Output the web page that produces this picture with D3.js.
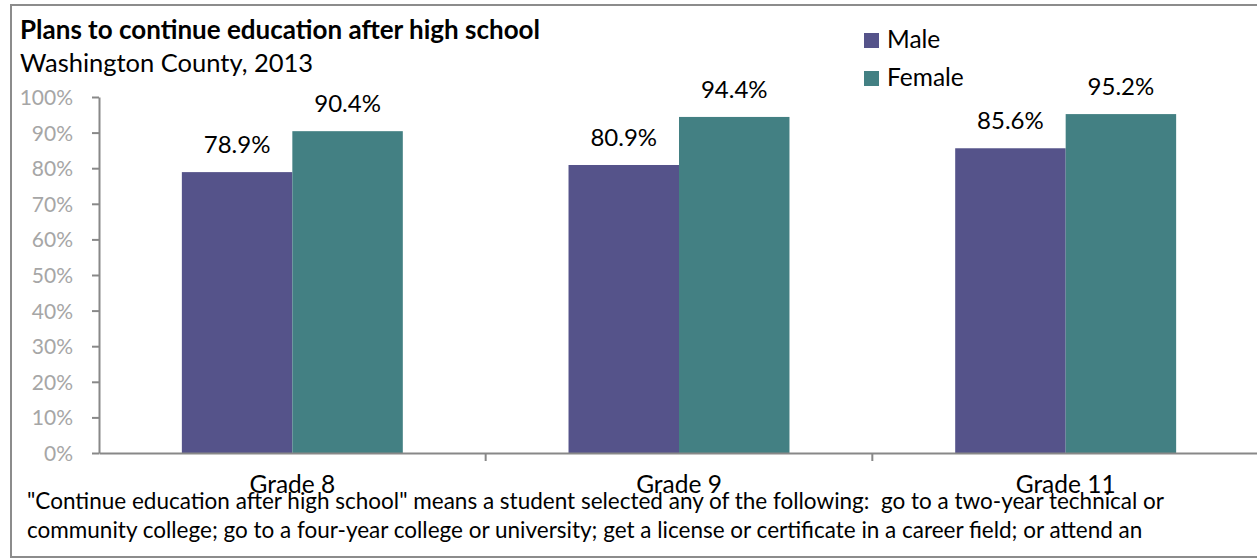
<!DOCTYPE html>
<html>
<head>
<meta charset="utf-8">
<script src="https://cdn.jsdelivr.net/npm/d3@7"></script>
<style>
  html, body { margin: 0; padding: 0; background: #fff; }
  svg { display: block; font-family: Lato, "Open Sans", sans-serif; }
  text { white-space: pre; }
</style>
</head>
<body>
<svg id="chart" width="1257" height="559"></svg>
<script>
// Plans to continue education after high school, by grade and sex
const grades = ["Grade 8", "Grade 9", "Grade 11"];
const seriesNames = ["Male", "Female"];
const male = [78.9, 80.9, 85.6];
const female = [90.4, 94.4, 95.2];
const yTicks = [0, 10, 20, 30, 40, 50, 60, 70, 80, 90, 100];
const colors = ["#55538a", "#438083"];
const title = "Plans to continue education after high school";
const subtitle = "Washington County, 2013";
const footnote = [
  "\"Continue education after high school\" means a student selected any of the following:  go to a two-year technical or",
  "community college; go to a four-year college or university; get a license or certificate in a career field; or attend an"
];

const svg = d3.select("#chart");
const W = 1257, H = 559;

// outer frame (right side runs past the window edge)
svg.append("rect")
  .attr("x", 11).attr("y", 5)
  .attr("width", W + 10).attr("height", 552)
  .attr("fill", "#fff").attr("stroke", "#8c8c8c").attr("stroke-width", 2);

const plot = { left: 99, right: 1259, top: 97, bottom: 453 };

const x = d3.scaleBand().domain(grades).range([plot.left, plot.right]).paddingInner(0).paddingOuter(0);
const xs = d3.scaleBand().domain(seriesNames).range([0, x.bandwidth()]).paddingInner(0).paddingOuter(0.75);
const y = d3.scaleLinear().domain([0, 100]).range([plot.bottom, plot.top]);

const rows = grades.map((g, i) => ({ grade: g, values: [male[i], female[i]] }));

// bars
const groups = svg.append("g").selectAll("g").data(rows).join("g")
  .attr("transform", d => `translate(${x(d.grade)},0)`);

groups.selectAll("rect").data(d => d.values.map((v, j) => ({ name: seriesNames[j], v, j })))
  .join("rect")
  .attr("x", d => xs(d.name))
  .attr("y", d => y(d.v))
  .attr("width", xs.bandwidth())
  .attr("height", d => y(0) - y(d.v))
  .attr("fill", d => colors[d.j]);

groups.selectAll("text.val").data(d => d.values.map((v, j) => ({ name: seriesNames[j], v })))
  .join("text")
  .attr("class", "val")
  .attr("x", d => xs(d.name) + xs.bandwidth() / 2)
  .attr("y", d => y(d.v) - 19)
  .attr("text-anchor", "middle")
  .attr("font-size", 24)
  .attr("fill", "#000")
  .text(d => d.v.toFixed(1) + "%");

// y axis
const yAxis = svg.append("g")
  .attr("transform", `translate(${plot.left},0)`)
  .call(d3.axisLeft(y).tickValues(yTicks).tickFormat(d => d + "%").tickSize(7).tickSizeOuter(0));
yAxis.select(".domain").attr("stroke", "#888").attr("stroke-width", 2);
yAxis.selectAll(".tick line").attr("stroke", "#888").attr("stroke-width", 2);
yAxis.selectAll(".tick text")
  .attr("x", -26).attr("dy", "0.36em")
  .attr("font-size", 21).attr("fill", "#a6a6a6")
  .attr("font-family", "Lato, sans-serif");

// x axis
const xAxis = svg.append("g")
  .attr("transform", `translate(0,${plot.bottom})`)
  .call(d3.axisBottom(x).tickSize(0).tickSizeOuter(0));
xAxis.select(".domain").attr("stroke", "#888").attr("stroke-width", 2);
xAxis.selectAll(".tick text")
  .attr("y", 40).attr("dy", 0)
  .attr("font-size", 24.5).attr("fill", "#000")
  .attr("font-family", "Lato, sans-serif");
// category separators
svg.append("g").selectAll("line").data(grades.slice(1)).join("line")
  .attr("x1", d => x(d)).attr("x2", d => x(d))
  .attr("y1", plot.bottom).attr("y2", plot.bottom + 8)
  .attr("stroke", "#888").attr("stroke-width", 2);

// titles
svg.append("text").attr("x", 20).attr("y", 39)
  .attr("font-size", 26).attr("font-weight", "bold").attr("fill", "#000")
  .text(title);
svg.append("text").attr("x", 20).attr("y", 72)
  .attr("font-size", 25.5).attr("fill", "#000")
  .text(subtitle);

// legend
const legend = svg.append("g").selectAll("g").data(seriesNames).join("g")
  .attr("transform", (d, i) => `translate(864,${33 + i * 38})`);
legend.append("rect").attr("width", 15).attr("height", 15).attr("fill", (d, i) => colors[i]);
legend.append("text").attr("x", 23).attr("y", 15)
  .attr("font-size", 24.5).attr("fill", "#000").text(d => d);

// footnote
svg.append("g").selectAll("text").data(footnote).join("text")
  .attr("x", 27).attr("y", (d, i) => 509 + i * 29)
  .attr("font-size", 22.5).attr("fill", "#000")
  .text(d => d);
</script>
</body>
</html>
